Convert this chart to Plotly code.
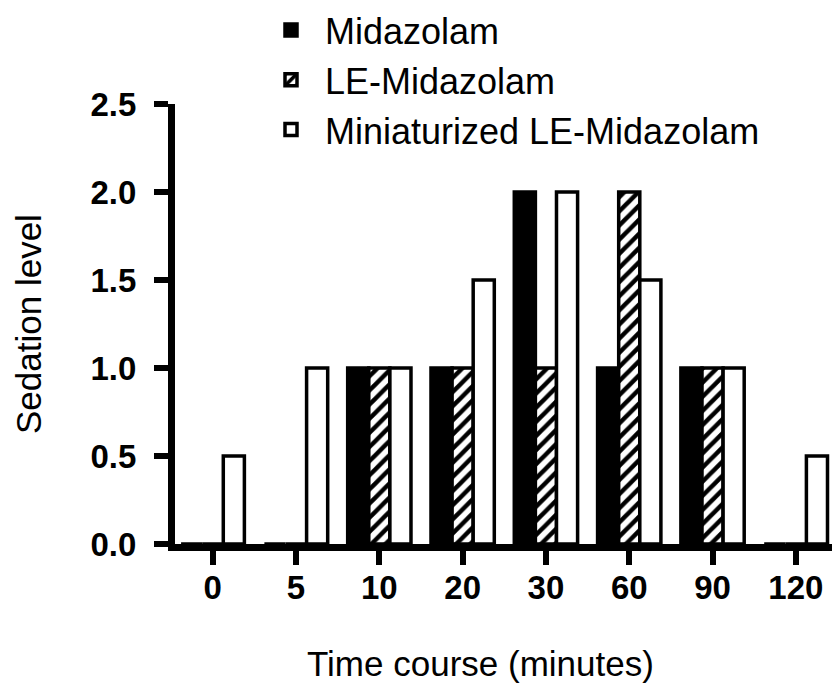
import plotly.graph_objects as go

categories = ["0", "5", "10", "20", "30", "60", "90", "120"]
midazolam = [0, 0, 1, 1, 2, 1, 1, 0]
le_midazolam = [0, 0, 1, 1, 1, 2, 1, 0]
mini_le_midazolam = [0.5, 1, 1, 1.5, 2, 1.5, 1, 0.5]
y_ticks = [0.0, 0.5, 1.0, 1.5, 2.0, 2.5]

FONT = "Liberation Sans, Arial"
L, R, T, B = 175, 0, 104, 143
W, H = 832, 687
PW, PH = W - L - R, H - T - B

fig = go.Figure()
fig.add_trace(go.Bar(name="Midazolam", x=categories, y=midazolam,
                     marker=dict(color="black", line=dict(color="black", width=3.5))))
fig.add_trace(go.Bar(name="LE-Midazolam", x=categories, y=le_midazolam,
                     marker=dict(color="white", line=dict(color="black", width=3.5),
                                 pattern=dict(shape="/", fgcolor="black", bgcolor="white",
                                              size=10, solidity=0.45, fillmode="replace"))))
fig.add_trace(go.Bar(name="Miniaturized LE-Midazolam", x=categories, y=mini_le_midazolam,
                     marker=dict(color="white", line=dict(color="black", width=3.5))))

fig.update_layout(
    width=W, height=H,
    margin=dict(l=L, r=R, t=T, b=B, autoexpand=False),
    paper_bgcolor="white", plot_bgcolor="white",
    barmode="group", bargap=0.24, bargroupgap=0,
    font=dict(family=FONT, color="black"),
    legend=dict(xref="container", yref="container", x=257 / W, y=1.0 + 3 / H,
                xanchor="left", yanchor="top",
                font=dict(size=36), bgcolor="rgba(0,0,0,0)",
                tracegroupgap=0, itemwidth=58),
    showlegend=True,
    annotations=[
        dict(text="Time course (minutes)", xref="paper", yref="paper",
             x=(480 - L) / PW, y=-(663 - (H - B)) / PH,
             xanchor="center", yanchor="middle", showarrow=False,
             font=dict(size=35, family=FONT, color="black")),
        dict(text="Sedation level", xref="paper", yref="paper",
             x=-(L - 28) / PW, y=0.5, textangle=-90,
             xanchor="center", yanchor="middle", showarrow=False,
             font=dict(size=35, family=FONT, color="black")),
    ],
)
fig.update_xaxes(
    type="category", range=[-0.453, 7.434], automargin=False,
    showline=True, linecolor="black", linewidth=7,
    ticks="outside", ticklen=14, tickwidth=6, tickcolor="black",
    tickfont=dict(size=33, family=FONT, weight="bold"), ticklabelstandoff=-6,
    showgrid=False, zeroline=False,
)
fig.update_yaxes(
    range=[0, 2.5], tickvals=y_ticks, ticktext=[f"{v:.1f}" for v in y_ticks],
    automargin=False,
    showline=True, linecolor="black", linewidth=7,
    ticks="outside", ticklen=14, tickwidth=6, tickcolor="black",
    tickfont=dict(size=33, family=FONT, weight="bold"), ticklabelstandoff=11,
    showgrid=False, zeroline=False,
)

fig.write_html("out.html", config={"displayModeBar": False},
               post_script="document.body.style.margin='0px';")
